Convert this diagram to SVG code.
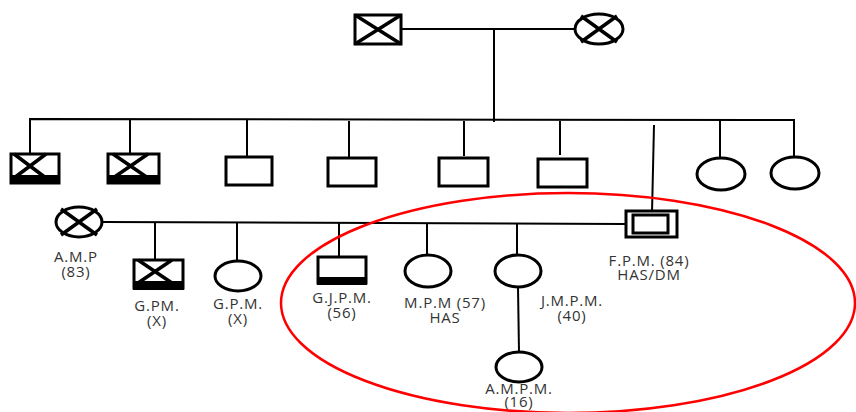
<svg xmlns="http://www.w3.org/2000/svg" width="856" height="412" viewBox="0 0 856 412">
<style>
.ln{stroke:#000;stroke-width:2;fill:none}
.sym{stroke:#000;stroke-width:3;fill:#fff}
.x{stroke:#000;stroke-width:3.5;fill:none}
.bar{fill:#000}
text{font-family:"Open Sans","Liberation Sans",sans-serif;font-size:15px;letter-spacing:0.8px;fill:#333;text-anchor:middle}
</style>
<rect width="856" height="412" fill="#fff"/>
<g id="connectors">
<line class="ln" x1="402" y1="29" x2="574" y2="29"/>
<line class="ln" x1="494" y1="29" x2="494" y2="122"/>
<polyline class="ln" points="30,154 30,119 794,120 794,157"/>
<line class="ln" x1="130" y1="119" x2="130" y2="154"/>
<line class="ln" x1="247" y1="119" x2="247" y2="157"/>
<line class="ln" x1="349" y1="121" x2="349" y2="158"/>
<line class="ln" x1="464" y1="121" x2="464" y2="156"/>
<line class="ln" x1="560" y1="121" x2="560" y2="155"/>
<line class="ln" x1="654" y1="125" x2="652" y2="213"/>
<line class="ln" x1="720" y1="120" x2="720" y2="157"/>
<line class="ln" x1="103" y1="222" x2="625" y2="224"/>
<line class="ln" x1="155" y1="223" x2="155" y2="260"/>
<line class="ln" x1="237" y1="223" x2="237" y2="261"/>
<line class="ln" x1="339" y1="223" x2="339" y2="256"/>
<line class="ln" x1="427" y1="224" x2="427" y2="254"/>
<line class="ln" x1="517" y1="224" x2="517" y2="254"/>
<line class="ln" x1="518" y1="287" x2="519" y2="352"/>
</g>
<g id="grandfather">
<rect class="sym" x="355" y="15" width="46" height="29"/>
<path class="x" d="M355,15 L401,44 M401,15 L355,44"/>
</g>
<g id="grandmother">
<ellipse class="sym" cx="599" cy="29" rx="24" ry="15"/>
<path class="x" d="M581,16 L617,42 M617,16 L581,42"/>
</g>
<g id="sib1">
<rect class="sym" x="11" y="154" width="48" height="29"/>
<rect class="bar" x="10" y="175" width="50" height="9"/>
<path class="x" d="M14,154 L46,178 M46,154 L14,178"/>
</g>
<g id="sib2">
<rect class="sym" x="108" y="154" width="51" height="29"/>
<rect class="bar" x="108" y="175" width="52" height="9"/>
<path class="x" d="M113,154 L148,178 M148,154 L113,178"/>
</g>
<g id="sib3"><rect class="sym" x="226" y="157" width="46" height="28"/></g>
<g id="sib4"><rect class="sym" x="328" y="158" width="48" height="28"/></g>
<g id="sib5"><rect class="sym" x="439" y="158" width="49" height="28"/></g>
<g id="sib6"><rect class="sym" x="538" y="159" width="49" height="28"/></g>
<g id="sib8"><ellipse class="sym" cx="721" cy="174" rx="24" ry="16"/></g>
<g id="sib9"><ellipse class="sym" cx="795" cy="173" rx="24" ry="16"/></g>
<g id="fpm">
<rect class="sym" x="626" y="211" width="51" height="26"/>
<rect class="sym" x="633" y="215" width="35" height="18"/>
<text x="649" y="266">F.P.M. (84)</text>
<text x="649" y="280">HAS/DM</text>
</g>
<g id="amp">
<ellipse class="sym" cx="79" cy="222" rx="23" ry="15"/>
<path class="x" d="M61,209 L97,235 M97,209 L61,235"/>
<text x="76" y="262">A.M.P</text>
<text x="76" y="277">(83)</text>
</g>
<g id="gpm1">
<rect class="sym" x="134" y="260" width="49" height="28"/>
<rect class="bar" x="133" y="281" width="51" height="9"/>
<path class="x" d="M138,260 L172,283 M172,260 L138,283"/>
<text x="157" y="311">G.PM.</text>
<text x="157" y="326">(X)</text>
</g>
<g id="gpm2">
<ellipse class="sym" cx="238" cy="276" rx="23" ry="15"/>
<text x="238" y="309">G.P.M.</text>
<text x="238" y="324">(X)</text>
</g>
<g id="gjpm">
<rect class="sym" x="318" y="257" width="48" height="26"/>
<rect class="bar" x="317" y="277" width="50" height="8"/>
<text x="342" y="303">G.J.P.M.</text>
<text x="342" y="318">(56)</text>
</g>
<g id="mpm">
<ellipse class="sym" cx="428" cy="271" rx="23" ry="16"/>
<text x="445" y="308">M.P.M (57)</text>
<text x="445" y="323">HAS</text>
</g>
<g id="jmpm">
<ellipse class="sym" cx="518" cy="271" rx="23" ry="16"/>
<text x="572" y="306">J.M.P.M.</text>
<text x="572" y="321">(40)</text>
</g>
<g id="ampm">
<ellipse class="sym" cx="519" cy="367" rx="23" ry="15"/>
<text x="519" y="394">A.M.P.M.</text>
<text x="519" y="407">(16)</text>
</g>
<ellipse cx="568" cy="303" rx="287" ry="110" fill="none" stroke="#ff0000" stroke-width="2.5"/>
</svg>
